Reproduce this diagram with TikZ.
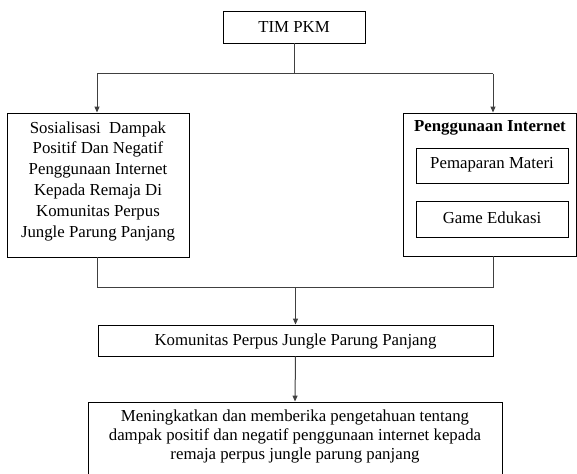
\documentclass[tikz,border=0pt]{standalone}
\usepackage{fontspec}
\setmainfont{Liberation Serif}
\usetikzlibrary{arrows.meta}
\newcommand{\fsz}{\fontsize{16.8}{20.8}\selectfont}
\newcommand{\fszb}{\fontsize{16.8}{19.3}\selectfont}
\begin{document}
\begin{tikzpicture}[x=1pt,y=-1pt,
 box/.style={draw=black,line width=0.9pt,rectangle,inner sep=0pt},
 txt/.style={font=\fsz,align=center,inner sep=0pt},
 conn/.style={draw=black!75,line width=1pt},
 arr/.style={conn,-{Triangle[length=6pt,width=5pt]}}]
\useasboundingbox (0,0) rectangle (577,473);
% boxes
\node[box,minimum width=142pt,minimum height=32pt] (tim) at (294,27) {};
\node[txt] (timtxt) at (294,27) {TIM PKM};
\node[box,minimum width=182pt,minimum height=144pt] (left) at (98,185) {};
\node[txt] (lefttxt) at (98,181) {Sosialisasi\ \ Dampak\\Positif Dan Negatif\\Penggunaan Internet\\Kepada Remaja Di\\Komunitas Perpus\\Jungle Parung Panjang};
\node[box,minimum width=173.5pt,minimum height=143pt] (right) at (489.75,184.5) {};
\node[txt,font=\fsz\bfseries] (hdr) at (490,128) {Penggunaan Internet};
\node[box,minimum width=152pt,minimum height=35pt] (in1) at (492,165.5) {};
\node[txt] (in1txt) at (492,164.5) {Pemaparan Materi};
\node[box,minimum width=152pt,minimum height=36pt] (in2) at (492,219) {};
\node[txt] (in2txt) at (492,218) {Game Edukasi};
\node[box,minimum width=395pt,minimum height=31pt] (kom) at (295.5,340.5) {};
\node[txt] (komtxt) at (295.5,341) {Komunitas Perpus Jungle Parung Panjang};
\node[box,minimum width=414pt,minimum height=90pt] (final) at (295,447) {};
\node[txt,font=\fszb] (finaltxt) at (295,436.5) {Meningkatkan dan memberika pengetahuan tentang\\dampak positif dan negatif penggunaan internet kepada\\remaja perpus jungle parung panjang};
% connectors
\coordinate (hl) at (97,74);
\coordinate (hr) at (493,74);
\coordinate (bl) at (97,287);
\coordinate (br) at (493,287);
\draw[conn] (tim.south) -- (tim.south |- hl);
\draw[conn] (hl) -- (hr);
\draw[arr] (hl) -- (hl |- left.north);
\draw[arr] (hr) -- (hr |- right.north);
\draw[conn] (bl |- left.south) -- (bl) -- (br) -- (br |- right.south);
\draw[arr] (kom.north |- bl) -- (kom.north);
\draw[arr] (kom.south) -- (final.north);
\end{tikzpicture}
\end{document}
